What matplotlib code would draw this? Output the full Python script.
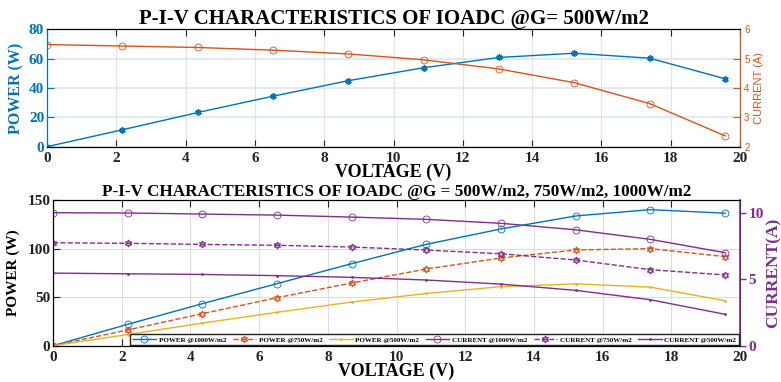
import matplotlib
matplotlib.use("Agg")
import matplotlib.pyplot as plt

# voltage points (V)
voltage = [0, 2.17, 4.35, 6.52, 8.70, 10.87, 13.04, 15.22, 17.39, 19.57]

# power (W)
power_500 = [0, 11.5, 23.3, 34.4, 45.0, 53.8, 60.8, 63.7, 60.3, 46.3]
power_750 = [0, 16.2, 33.0, 49.4, 64.6, 79.0, 90.3, 98.6, 99.9, 91.7]
power_1000 = [0, 22.0, 43.3, 63.9, 84.5, 104.4, 120.2, 133.6, 140.1, 136.4]

# current (A)
current_500 = [5.48, 5.43, 5.38, 5.29, 5.16, 4.96, 4.65, 4.18, 3.47, 2.37]
current_750 = [7.77, 7.73, 7.65, 7.58, 7.45, 7.22, 6.94, 6.47, 5.74, 5.34]
current_1000 = [10.04, 10.02, 9.94, 9.86, 9.71, 9.54, 9.24, 8.75, 8.03, 7.02]

xticks = [0, 2, 4, 6, 8, 10, 12, 14, 16, 18, 20]

blue = "#0072BD"
orange = "#D95319"
yellow = "#EDB120"
purple = "#7E2F8E"
serif = "Liberation Serif"
sans = "Liberation Sans"
hexagram = (6, 1, 0)
asterisk = (6, 2, 0)

fig = plt.figure(figsize=(7.81, 3.82), dpi=100)

# ---------------- top chart ----------------
ax = fig.add_axes([0.0602, 0.616, 0.8873, 0.3073])
ax2 = ax.twinx()

ax.plot(voltage, power_500, color=blue, lw=1.0, marker=asterisk, ms=4.5,
        mew=1.2)
ax2.plot(voltage, current_500, color=orange, lw=1.0, marker="o", ms=5,
         mfc="none", mew=0.6)

ax.set_xlim(0, 20)
ax.set_ylim(0, 80)
ax2.set_ylim(2, 6)
ax.set_xticks(xticks)
ax.set_yticks([0, 20, 40, 60, 80])
ax2.set_yticks([2, 3, 4, 5, 6])
ax.grid(axis="x", color="#e2e2e2", lw=0.8)
ax.grid(axis="y", color="#d8e7f3", lw=1.2)
ax.set_axisbelow(True)

ax.tick_params(axis="x", direction="in", length=5, top=True, labelsize=11,
               colors="#222222", pad=4)
ax.tick_params(axis="y", direction="in", length=5, labelsize=11,
               colors=blue, pad=2)
ax2.tick_params(axis="y", direction="in", length=5, labelsize=7,
                colors=orange, pad=3)
for lab in ax.get_xticklabels() + ax.get_yticklabels():
    lab.set_fontfamily(serif)
    lab.set_fontweight("bold")
for lab in ax2.get_yticklabels():
    lab.set_fontfamily(sans)

ax2.spines["left"].set_color(blue)
ax2.spines["right"].set_color(orange)
ax.spines["left"].set_color(blue)

ax.set_title("P-I-V CHARACTERISTICS OF IOADC @G= 500W/m2", family=serif,
             fontweight="bold", fontsize=15, pad=4)
ax.set_ylabel("POWER (W)", family=serif, fontweight="bold", fontsize=11.5,
              color=blue, labelpad=3)
ax.set_xlabel("VOLTAGE (V)", family=serif, fontweight="bold", fontsize=13,
              labelpad=-1)
ax2.set_ylabel("CURRENT (A)", family=sans, fontsize=8, color=orange,
               labelpad=3)

# ---------------- bottom chart ----------------
bx = fig.add_axes([0.0679, 0.095, 0.8796, 0.3814])
bx2 = bx.twinx()

h1, = bx.plot(voltage, power_1000, color=blue, lw=1.0, marker="o", ms=5,
              mfc="none", mew=0.6, label="POWER @1000W/m2")
h2, = bx.plot(voltage, power_750, color=orange, lw=1.0, ls="--",
              marker=hexagram, ms=5, mfc="none", mew=0.9,
              label="POWER @750W/m2")
h3, = bx.plot(voltage, power_500, color=yellow, lw=1.0, marker=".", ms=2,
              label="POWER @500W/m2")
h4, = bx2.plot(voltage, current_1000, color=purple, lw=1.0, marker="o", ms=5,
               mfc="none", mew=0.6, label="CURRENT @1000W/m2")
h5, = bx2.plot(voltage, current_750, color=purple, lw=1.0, ls="--",
               marker=hexagram, ms=5, mfc="none", mew=0.9,
               label="CURRENT @750W/m2")
h6, = bx2.plot(voltage, current_500, color=purple, lw=1.0, marker=".", ms=2,
               label="CURRENT @500W/m2")

bx.set_xlim(0, 20)
bx.set_ylim(0, 150)
bx2.set_ylim(0, 11)
bx.set_xticks(xticks)
bx.set_yticks([0, 50, 100, 150])
bx2.set_yticks([0, 5, 10])
bx.grid(color="#dddddd", lw=0.8)
bx.set_axisbelow(True)

bx.tick_params(axis="x", direction="in", length=5, top=True, labelsize=11,
               colors="#222222", pad=4)
bx.tick_params(axis="y", direction="in", length=5, labelsize=11,
               colors="#222222", pad=2)
bx2.tick_params(axis="y", direction="out", length=4, width=1.0,
                labelsize=11, colors=purple, pad=2)
for lab in bx.get_xticklabels() + bx.get_yticklabels() + bx2.get_yticklabels():
    lab.set_fontfamily(serif)
    lab.set_fontweight("bold")

bx2.spines["right"].set_color(purple)
bx2.spines["right"].set_linewidth(1.2)

bx.set_title("P-I-V CHARACTERISTICS OF IOADC @G = 500W/m2, 750W/m2, 1000W/m2",
             family=serif, fontweight="bold", fontsize=12.3, pad=3)
bx.set_ylabel("POWER (W)", family=serif, fontweight="bold", fontsize=11,
              labelpad=5)
bx.set_xlabel("VOLTAGE (V)", family=serif, fontweight="bold", fontsize=13,
              labelpad=-1)
bx2.set_ylabel("CURRENT(A)", family=serif, fontweight="bold", fontsize=12.5,
               color=purple, labelpad=1)

leg = bx2.legend(handles=[h1, h2, h3, h4, h5, h6], ncol=6, loc="lower right",
                 bbox_to_anchor=(0.998, 0.005), frameon=True, fancybox=False,
                 edgecolor="#222222", framealpha=1,
                 prop={"family": serif, "weight": "bold", "size": 5.0},
                 handlelength=3.4, columnspacing=0.9, handletextpad=0.4,
                 borderpad=0.35, borderaxespad=0)
leg.get_frame().set_linewidth(1.0)

fig.savefig("out.png", dpi=100)
